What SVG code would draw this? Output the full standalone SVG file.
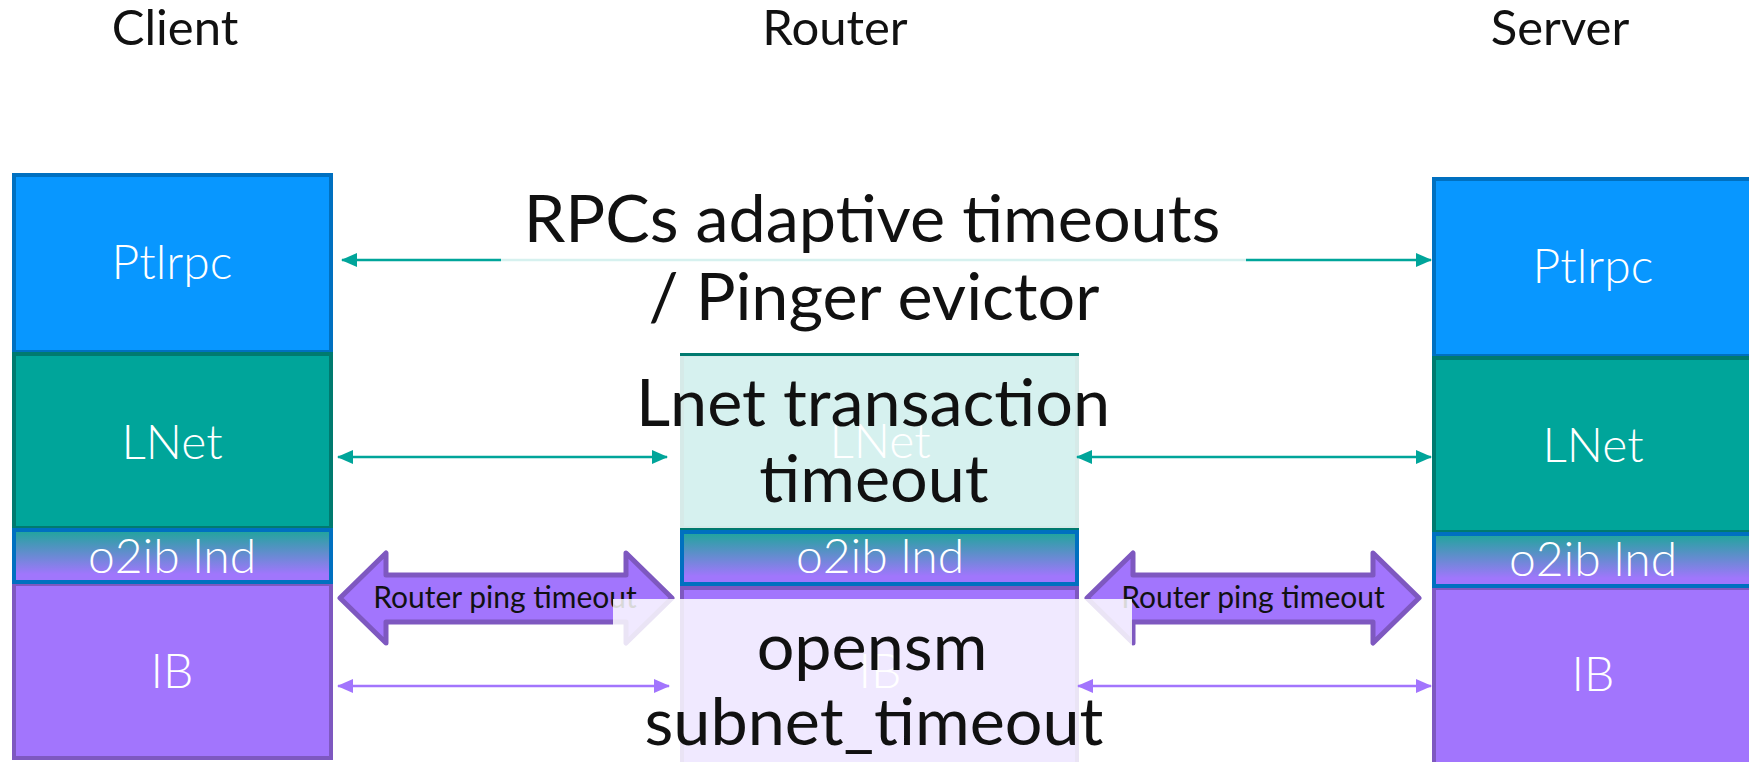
<svg xmlns="http://www.w3.org/2000/svg" width="1749" height="762" viewBox="0 0 1749 762">
  <defs>
    <linearGradient id="lndFill" x1="0" y1="0" x2="0" y2="1">
      <stop offset="0" stop-color="#1ea69b"/>
      <stop offset="0.85" stop-color="#a076fc"/>
    </linearGradient>
    <marker id="headTeal" viewBox="0 0 16 14" refX="15" refY="7" markerWidth="16" markerHeight="14" markerUnits="userSpaceOnUse" orient="auto-start-reverse">
      <path d="M0,0 L16,7 L0,14 Z" fill="#00a59a"/>
    </marker>
    <marker id="headPurple" viewBox="0 0 16 14" refX="15" refY="7" markerWidth="16" markerHeight="14" markerUnits="userSpaceOnUse" orient="auto-start-reverse">
      <path d="M0,0 L16,7 L0,14 Z" fill="#a275fd"/>
    </marker>
  </defs>
  <style>
    .ptl { fill: #0897ff; stroke: #0070c0; stroke-width: 4; }
    .lnet { fill: #00a59a; stroke: #007a6f; stroke-width: 4; }
    .lnd { fill: url(#lndFill); stroke: #0070c0; stroke-width: 4; }
    .ib { fill: #a275fd; stroke: #7e58c0; stroke-width: 4; }
    .layer { font-family: Lato, "Noto Sans", sans-serif; font-weight: 300; font-size: 48px; fill: #ffffff; text-anchor: middle; }
    .head { font-family: Lato, "Noto Sans", sans-serif; font-size: 49px; fill: #111111; text-anchor: middle; }
    .big { font-family: Lato, "Noto Sans", sans-serif; font-size: 66.5px; fill: #111111; text-anchor: middle; }
    .ping { fill: #a275fd; stroke: #7e58c0; stroke-width: 5; stroke-linejoin: round; }
    .pingtxt { font-family: Lato, "Noto Sans", sans-serif; font-size: 30px; fill: #111111; text-anchor: middle; }
    .veil { fill: #ffffff; fill-opacity: 0.84; }
    .link { fill: none; stroke-width: 2.5; }
    .teal { stroke: #00a59a; marker-start: url(#headTeal); marker-end: url(#headTeal); }
    .purple { stroke: #a275fd; marker-start: url(#headPurple); marker-end: url(#headPurple); }
  </style>

  <rect width="1749" height="762" fill="#ffffff"/>

  <!-- Client stack -->
  <g id="client">
    <text class="head" x="175" y="45">Client</text>
    <rect class="ptl" x="14" y="175" width="317" height="177"/>
    <rect class="lnet" x="14" y="354" width="317" height="174"/>
    <rect class="ib" x="14" y="584" width="317" height="174"/>
    <rect class="lnd" x="14" y="530" width="317" height="52"/>
    <text class="layer" x="172" y="279">Ptlrpc</text>
    <text class="layer" x="172" y="459">LNet</text>
    <text class="layer" x="172" y="573">o2ib lnd</text>
    <text class="layer" x="172" y="688">IB</text>
  </g>

  <!-- Router stack -->
  <g id="router">
    <text class="head" x="835" y="45">Router</text>
    <rect class="lnet" x="682" y="355" width="395" height="173"/>
    <rect class="ib" x="682" y="588" width="395" height="180"/>
    <rect class="lnd" x="682" y="532" width="395" height="52"/>
    <text class="layer" x="880" y="458">LNet</text>
    <text class="layer" x="880" y="573">o2ib lnd</text>
    <text class="layer" x="880" y="688">IB</text>
  </g>

  <!-- Server stack -->
  <g id="server">
    <text class="head" x="1560" y="45">Server</text>
    <rect class="ptl" x="1434" y="179" width="320" height="177"/>
    <rect class="lnet" x="1434" y="358" width="320" height="174"/>
    <rect class="ib" x="1434" y="588" width="320" height="180"/>
    <rect class="lnd" x="1434" y="534" width="320" height="52"/>
    <text class="layer" x="1593" y="283">Ptlrpc</text>
    <text class="layer" x="1593" y="462">LNet</text>
    <text class="layer" x="1593" y="576">o2ib lnd</text>
    <text class="layer" x="1593" y="691">IB</text>
  </g>

  <!-- Router ping block arrows -->
  <g id="ping-left">
    <polygon class="ping" points="340,598 386,553 386,575 626,575 626,553 672,598 626,643 626,622 386,622 386,643"/>
    <text class="pingtxt" x="505" y="608">Router ping timeout</text>
  </g>
  <g id="ping-right">
    <polygon class="ping" points="1087,598 1133,553 1133,575 1373,575 1373,553 1419,598 1373,643 1373,622 1133,622 1133,643"/>
    <text class="pingtxt" x="1253" y="608">Router ping timeout</text>
  </g>

  <!-- Timeout labels laid over the router stack -->
  <g id="lnet-timeout">
    <rect class="veil" x="680" y="356" width="399" height="172"/>
    <text class="big" x="873" y="426">Lnet transaction</text>
    <text class="big" x="874" y="502">timeout</text>
  </g>
  <g id="opensm-timeout">
    <rect class="veil" x="613" y="599" width="519" height="170"/>
    <text class="big" x="872" y="670">opensm</text>
    <text class="big" x="874" y="745">subnet_timeout</text>
  </g>

  <!-- Connectors -->
  <g id="connectors">
    <line class="link teal" x1="342" y1="260" x2="1431" y2="260"/>
    <line class="link teal" x1="338" y1="457" x2="667" y2="457"/>
    <line class="link teal" x1="1077" y1="457" x2="1431" y2="457"/>
    <line class="link purple" x1="338" y1="686" x2="669" y2="686"/>
    <line class="link purple" x1="1078" y1="686" x2="1431" y2="686"/>
  </g>

  <!-- RPC timeout label, laid over the Ptlrpc connector -->
  <g id="rpc-timeout">
    <rect class="veil" x="501" y="182" width="745" height="160"/>
    <text class="big" x="872" y="242">RPCs adaptive timeouts</text>
    <text class="big" x="874" y="320">/ Pinger evictor</text>
  </g>
</svg>
